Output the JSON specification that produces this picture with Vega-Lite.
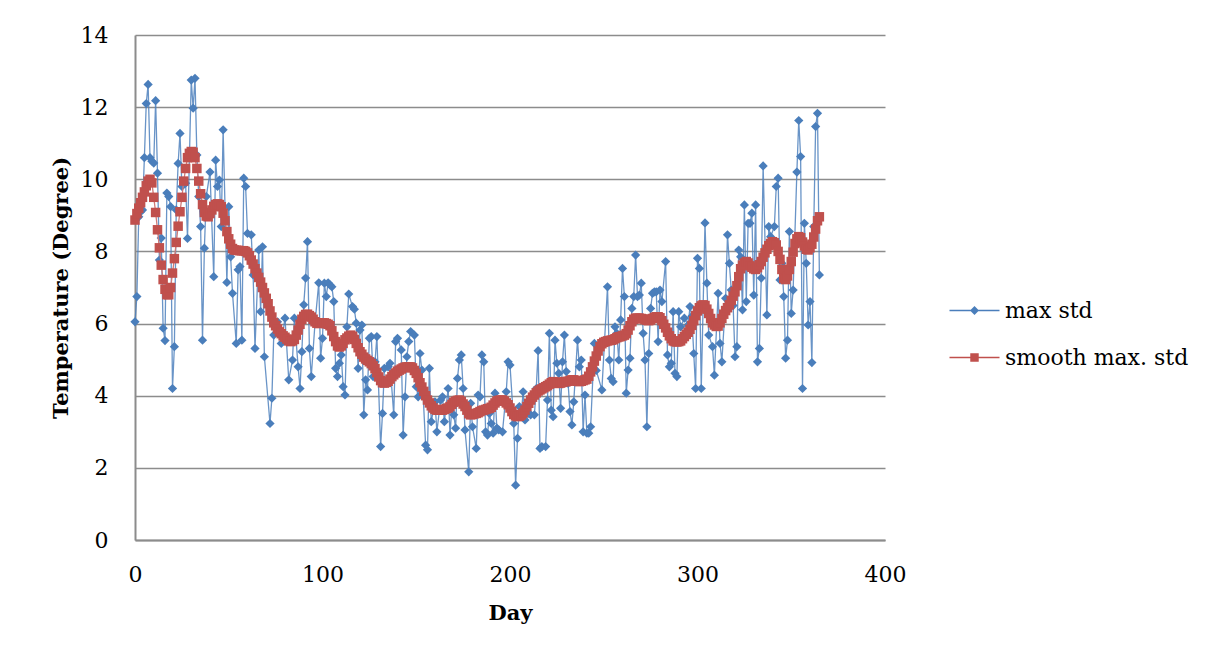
{
  "$schema": "https://vega.github.io/schema/vega-lite/v6.json",
  "width": 750,
  "height": 505,
  "autosize": {"type": "none"},
  "padding": {"left": 135, "top": 35, "right": 338, "bottom": 116},
  "background": "white",
  "datasets": {
    "maxstd": [
      {"day":0,"value":6.05},{"day":1,"value":6.75},{"day":2,"value":8.96},{"day":3,"value":9.1},{"day":4,"value":9.15},{"day":5,"value":10.6},{"day":6,"value":12.1},{"day":7,"value":12.63},{"day":8,"value":10.6},{"day":9,"value":10.5},{"day":10,"value":10.45},{"day":11,"value":12.18},{"day":12,"value":10.17},{"day":13,"value":7.76},{"day":14,"value":8.37},{"day":15,"value":5.87},{"day":16,"value":5.53},{"day":17,"value":9.62},{"day":18,"value":9.52},{"day":19,"value":9.24},{"day":20,"value":4.2},{"day":21,"value":5.36},{"day":22,"value":9.15},{"day":23,"value":10.44},{"day":24,"value":11.27},{"day":25,"value":9.8},{"day":27,"value":9.89},{"day":28,"value":8.36},{"day":30,"value":12.75},{"day":31,"value":11.97},{"day":32,"value":12.8},{"day":33,"value":10.67},{"day":34,"value":9.52},{"day":35,"value":8.69},{"day":36,"value":5.54},{"day":37,"value":8.09},{"day":38,"value":9.52},{"day":40,"value":10.2},{"day":42,"value":7.3},{"day":43,"value":10.53},{"day":44,"value":9.8},{"day":45,"value":9.98},{"day":46,"value":8.69},{"day":47,"value":11.37},{"day":49,"value":7.14},{"day":50,"value":9.24},{"day":51,"value":7.85},{"day":52,"value":6.84},{"day":54,"value":5.45},{"day":55,"value":7.49},{"day":56,"value":7.58},{"day":57,"value":5.54},{"day":58,"value":10.03},{"day":59,"value":9.8},{"day":60,"value":8.5},{"day":62,"value":8.46},{"day":63,"value":7.35},{"day":64,"value":5.31},{"day":66,"value":8.04},{"day":67,"value":6.33},{"day":68,"value":8.13},{"day":69,"value":5.08},{"day":72,"value":3.23},{"day":73,"value":3.93},{"day":74,"value":5.68},{"day":76,"value":6.05},{"day":78,"value":5.45},{"day":80,"value":6.15},{"day":82,"value":4.44},{"day":84,"value":4.99},{"day":85,"value":6.15},{"day":87,"value":4.8},{"day":88,"value":4.2},{"day":89,"value":5.22},{"day":90,"value":6.52},{"day":91,"value":7.26},{"day":92,"value":8.27},{"day":93,"value":5.31},{"day":94,"value":4.53},{"day":96,"value":6.01},{"day":98,"value":7.13},{"day":99,"value":5.04},{"day":100,"value":5.59},{"day":101,"value":7.12},{"day":102,"value":6.75},{"day":103,"value":7.13},{"day":104,"value":7.07},{"day":105,"value":7.02},{"day":106,"value":6.61},{"day":107,"value":4.76},{"day":108,"value":4.53},{"day":109,"value":4.9},{"day":110,"value":5.13},{"day":111,"value":4.25},{"day":112,"value":4.02},{"day":113,"value":5.91},{"day":114,"value":6.82},{"day":116,"value":6.47},{"day":117,"value":6.4},{"day":118,"value":6.01},{"day":119,"value":4.76},{"day":120,"value":5.82},{"day":121,"value":5.96},{"day":122,"value":3.47},{"day":123,"value":4.44},{"day":124,"value":4.16},{"day":125,"value":5.59},{"day":126,"value":5.64},{"day":127,"value":4.53},{"day":128,"value":4.94},{"day":129,"value":5.64},{"day":131,"value":2.59},{"day":132,"value":3.51},{"day":133,"value":4.76},{"day":135,"value":4.8},{"day":136,"value":4.9},{"day":138,"value":3.47},{"day":139,"value":5.5},{"day":140,"value":5.59},{"day":142,"value":5.27},{"day":143,"value":2.91},{"day":144,"value":3.97},{"day":145,"value":5.08},{"day":146,"value":5.5},{"day":147,"value":5.78},{"day":149,"value":5.68},{"day":150,"value":4.25},{"day":151,"value":3.97},{"day":152,"value":5.17},{"day":153,"value":4.71},{"day":155,"value":2.63},{"day":156,"value":2.5},{"day":157,"value":4.76},{"day":158,"value":3.28},{"day":160,"value":3.83},{"day":161,"value":3.0},{"day":163,"value":3.88},{"day":164,"value":3.97},{"day":165,"value":3.28},{"day":167,"value":4.2},{"day":168,"value":2.91},{"day":169,"value":3.7},{"day":170,"value":3.47},{"day":171,"value":3.1},{"day":172,"value":4.48},{"day":173,"value":4.99},{"day":174,"value":5.13},{"day":175,"value":4.2},{"day":176,"value":3.05},{"day":178,"value":1.89},{"day":179,"value":3.79},{"day":180,"value":3.14},{"day":182,"value":2.54},{"day":183,"value":4.02},{"day":184,"value":3.97},{"day":185,"value":5.13},{"day":186,"value":4.94},{"day":187,"value":3.0},{"day":188,"value":2.91},{"day":189,"value":3.51},{"day":190,"value":3.23},{"day":191,"value":2.96},{"day":192,"value":4.07},{"day":193,"value":3.1},{"day":194,"value":3.05},{"day":196,"value":3.0},{"day":198,"value":4.11},{"day":199,"value":4.94},{"day":200,"value":4.85},{"day":202,"value":3.23},{"day":203,"value":1.52},{"day":204,"value":2.82},{"day":205,"value":3.7},{"day":206,"value":3.47},{"day":207,"value":4.11},{"day":208,"value":3.33},{"day":210,"value":3.51},{"day":211,"value":3.47},{"day":213,"value":3.47},{"day":214,"value":4.2},{"day":215,"value":5.25},{"day":216,"value":2.54},{"day":217,"value":2.59},{"day":219,"value":2.59},{"day":220,"value":3.88},{"day":221,"value":5.73},{"day":222,"value":3.6},{"day":223,"value":3.42},{"day":224,"value":5.54},{"day":225,"value":4.9},{"day":226,"value":4.62},{"day":227,"value":3.65},{"day":228,"value":4.94},{"day":229,"value":5.68},{"day":230,"value":4.67},{"day":231,"value":4.34},{"day":232,"value":3.56},{"day":233,"value":3.19},{"day":234,"value":3.83},{"day":236,"value":5.54},{"day":237,"value":4.8},{"day":238,"value":4.99},{"day":239,"value":3.0},{"day":240,"value":4.02},{"day":241,"value":2.96},{"day":242,"value":2.96},{"day":243,"value":3.14},{"day":245,"value":5.45},{"day":246,"value":4.7},{"day":249,"value":4.16},{"day":252,"value":7.02},{"day":253,"value":4.99},{"day":254,"value":4.48},{"day":255,"value":4.39},{"day":256,"value":5.91},{"day":257,"value":5.73},{"day":258,"value":4.99},{"day":259,"value":6.1},{"day":260,"value":7.53},{"day":261,"value":6.75},{"day":262,"value":4.07},{"day":263,"value":4.71},{"day":264,"value":5.04},{"day":265,"value":6.42},{"day":266,"value":6.75},{"day":267,"value":7.9},{"day":268,"value":6.75},{"day":269,"value":6.79},{"day":270,"value":7.12},{"day":271,"value":5.73},{"day":272,"value":4.99},{"day":273,"value":3.14},{"day":274,"value":5.17},{"day":275,"value":6.42},{"day":276,"value":6.84},{"day":277,"value":6.88},{"day":278,"value":6.88},{"day":279,"value":5.5},{"day":280,"value":6.93},{"day":281,"value":6.61},{"day":283,"value":7.72},{"day":284,"value":5.13},{"day":285,"value":4.8},{"day":286,"value":4.9},{"day":287,"value":6.33},{"day":288,"value":4.62},{"day":289,"value":4.53},{"day":290,"value":6.33},{"day":291,"value":5.91},{"day":293,"value":6.15},{"day":295,"value":5.96},{"day":296,"value":6.47},{"day":297,"value":6.2},{"day":298,"value":5.17},{"day":299,"value":4.2},{"day":300,"value":7.81},{"day":301,"value":7.53},{"day":302,"value":4.2},{"day":304,"value":8.79},{"day":305,"value":7.12},{"day":306,"value":5.68},{"day":308,"value":5.36},{"day":309,"value":4.57},{"day":311,"value":6.84},{"day":312,"value":5.45},{"day":313,"value":4.94},{"day":315,"value":6.7},{"day":316,"value":8.46},{"day":317,"value":7.67},{"day":318,"value":6.93},{"day":319,"value":6.5},{"day":320,"value":5.08},{"day":321,"value":5.36},{"day":322,"value":8.04},{"day":323,"value":7.85},{"day":324,"value":6.38},{"day":325,"value":9.29},{"day":326,"value":6.61},{"day":327,"value":8.78},{"day":328,"value":8.78},{"day":329,"value":9.06},{"day":330,"value":6.79},{"day":331,"value":9.29},{"day":332,"value":4.94},{"day":333,"value":5.31},{"day":334,"value":7.26},{"day":335,"value":10.37},{"day":337,"value":6.24},{"day":338,"value":8.69},{"day":339,"value":8.41},{"day":341,"value":8.69},{"day":342,"value":9.8},{"day":343,"value":10.03},{"day":344,"value":7.21},{"day":345,"value":7.67},{"day":346,"value":6.75},{"day":347,"value":5.04},{"day":348,"value":5.54},{"day":349,"value":8.55},{"day":350,"value":6.28},{"day":351,"value":6.93},{"day":353,"value":10.2},{"day":354,"value":11.63},{"day":355,"value":10.63},{"day":356,"value":4.2},{"day":357,"value":8.78},{"day":358,"value":7.67},{"day":359,"value":5.96},{"day":360,"value":6.61},{"day":361,"value":4.92},{"day":362,"value":8.69},{"day":363,"value":11.46},{"day":364,"value":11.83},{"day":365,"value":7.35}
    ],
    "smooth": [
      {"day":0,"value":8.87},{"day":1,"value":9.05},{"day":2,"value":9.2},{"day":3,"value":9.35},{"day":4,"value":9.5},{"day":5,"value":9.65},{"day":6,"value":9.82},{"day":7,"value":9.95},{"day":8,"value":10.0},{"day":9,"value":9.9},{"day":10,"value":9.5},{"day":11,"value":9.08},{"day":12,"value":8.6},{"day":13,"value":8.1},{"day":14,"value":7.62},{"day":15,"value":7.22},{"day":16,"value":6.95},{"day":17,"value":6.8},{"day":18,"value":6.8},{"day":19,"value":7.0},{"day":20,"value":7.4},{"day":21,"value":7.8},{"day":22,"value":8.25},{"day":23,"value":8.7},{"day":24,"value":9.1},{"day":25,"value":9.5},{"day":26,"value":9.95},{"day":27,"value":10.3},{"day":28,"value":10.6},{"day":29,"value":10.72},{"day":30,"value":10.77},{"day":31,"value":10.75},{"day":32,"value":10.6},{"day":33,"value":10.3},{"day":34,"value":9.95},{"day":35,"value":9.6},{"day":36,"value":9.3},{"day":37,"value":9.08},{"day":38,"value":8.98},{"day":39,"value":8.96},{"day":40,"value":9.05},{"day":41,"value":9.15},{"day":42,"value":9.25},{"day":43,"value":9.3},{"day":44,"value":9.32},{"day":45,"value":9.3},{"day":46,"value":9.24},{"day":47,"value":9.06},{"day":48,"value":8.85},{"day":49,"value":8.55},{"day":50,"value":8.35},{"day":51,"value":8.2},{"day":52,"value":8.08},{"day":53,"value":8.04},{"day":54,"value":8.03},{"day":55,"value":8.03},{"day":56,"value":8.02},{"day":57,"value":8.02},{"day":58,"value":8.02},{"day":59,"value":8.0},{"day":60,"value":7.96},{"day":61,"value":7.88},{"day":62,"value":7.76},{"day":63,"value":7.65},{"day":64,"value":7.52},{"day":65,"value":7.4},{"day":66,"value":7.28},{"day":67,"value":7.15},{"day":68,"value":7.0},{"day":69,"value":6.85},{"day":70,"value":6.7},{"day":71,"value":6.55},{"day":72,"value":6.35},{"day":73,"value":6.18},{"day":74,"value":6.02},{"day":75,"value":5.94},{"day":76,"value":5.85},{"day":77,"value":5.77},{"day":78,"value":5.72},{"day":79,"value":5.66},{"day":80,"value":5.62},{"day":81,"value":5.57},{"day":82,"value":5.52},{"day":83,"value":5.5},{"day":84,"value":5.52},{"day":85,"value":5.56},{"day":86,"value":5.68},{"day":87,"value":5.82},{"day":88,"value":5.98},{"day":89,"value":6.12},{"day":90,"value":6.2},{"day":91,"value":6.25},{"day":92,"value":6.26},{"day":93,"value":6.22},{"day":94,"value":6.18},{"day":95,"value":6.12},{"day":96,"value":6.05},{"day":97,"value":6.01},{"day":98,"value":6.0},{"day":99,"value":6.01},{"day":100,"value":6.02},{"day":101,"value":6.02},{"day":102,"value":6.0},{"day":103,"value":5.98},{"day":104,"value":5.94},{"day":105,"value":5.8},{"day":106,"value":5.64},{"day":107,"value":5.5},{"day":108,"value":5.38},{"day":109,"value":5.35},{"day":110,"value":5.38},{"day":111,"value":5.45},{"day":112,"value":5.55},{"day":113,"value":5.6},{"day":114,"value":5.65},{"day":115,"value":5.68},{"day":116,"value":5.65},{"day":117,"value":5.56},{"day":118,"value":5.45},{"day":119,"value":5.33},{"day":120,"value":5.22},{"day":121,"value":5.15},{"day":122,"value":5.07},{"day":123,"value":5.02},{"day":124,"value":4.98},{"day":125,"value":4.94},{"day":126,"value":4.89},{"day":127,"value":4.83},{"day":128,"value":4.75},{"day":129,"value":4.64},{"day":130,"value":4.52},{"day":131,"value":4.42},{"day":132,"value":4.36},{"day":133,"value":4.35},{"day":134,"value":4.37},{"day":135,"value":4.4},{"day":136,"value":4.46},{"day":137,"value":4.53},{"day":138,"value":4.58},{"day":139,"value":4.63},{"day":140,"value":4.68},{"day":141,"value":4.71},{"day":142,"value":4.74},{"day":143,"value":4.77},{"day":144,"value":4.79},{"day":145,"value":4.8},{"day":146,"value":4.8},{"day":147,"value":4.8},{"day":148,"value":4.77},{"day":149,"value":4.7},{"day":150,"value":4.62},{"day":151,"value":4.5},{"day":152,"value":4.36},{"day":153,"value":4.24},{"day":154,"value":4.12},{"day":155,"value":4.0},{"day":156,"value":3.88},{"day":157,"value":3.8},{"day":158,"value":3.72},{"day":159,"value":3.66},{"day":160,"value":3.62},{"day":161,"value":3.6},{"day":162,"value":3.6},{"day":163,"value":3.6},{"day":164,"value":3.6},{"day":165,"value":3.62},{"day":166,"value":3.64},{"day":167,"value":3.66},{"day":168,"value":3.7},{"day":169,"value":3.76},{"day":170,"value":3.82},{"day":171,"value":3.85},{"day":172,"value":3.87},{"day":173,"value":3.88},{"day":174,"value":3.84},{"day":175,"value":3.77},{"day":176,"value":3.7},{"day":177,"value":3.6},{"day":178,"value":3.5},{"day":179,"value":3.47},{"day":180,"value":3.48},{"day":181,"value":3.5},{"day":182,"value":3.51},{"day":183,"value":3.53},{"day":184,"value":3.56},{"day":185,"value":3.59},{"day":186,"value":3.6},{"day":187,"value":3.62},{"day":188,"value":3.64},{"day":189,"value":3.65},{"day":190,"value":3.68},{"day":191,"value":3.74},{"day":192,"value":3.8},{"day":193,"value":3.85},{"day":194,"value":3.87},{"day":195,"value":3.88},{"day":196,"value":3.88},{"day":197,"value":3.85},{"day":198,"value":3.8},{"day":199,"value":3.75},{"day":200,"value":3.66},{"day":201,"value":3.56},{"day":202,"value":3.48},{"day":203,"value":3.44},{"day":204,"value":3.42},{"day":205,"value":3.43},{"day":206,"value":3.47},{"day":207,"value":3.52},{"day":208,"value":3.6},{"day":209,"value":3.7},{"day":210,"value":3.79},{"day":211,"value":3.88},{"day":212,"value":3.96},{"day":213,"value":4.02},{"day":214,"value":4.08},{"day":215,"value":4.13},{"day":216,"value":4.16},{"day":217,"value":4.19},{"day":218,"value":4.22},{"day":219,"value":4.25},{"day":220,"value":4.28},{"day":221,"value":4.32},{"day":222,"value":4.36},{"day":223,"value":4.39},{"day":224,"value":4.38},{"day":225,"value":4.36},{"day":226,"value":4.34},{"day":227,"value":4.35},{"day":228,"value":4.37},{"day":229,"value":4.39},{"day":230,"value":4.39},{"day":231,"value":4.4},{"day":232,"value":4.42},{"day":233,"value":4.44},{"day":234,"value":4.44},{"day":235,"value":4.42},{"day":236,"value":4.4},{"day":237,"value":4.39},{"day":238,"value":4.4},{"day":239,"value":4.42},{"day":240,"value":4.44},{"day":241,"value":4.46},{"day":242,"value":4.54},{"day":243,"value":4.66},{"day":244,"value":4.8},{"day":245,"value":4.96},{"day":246,"value":5.1},{"day":247,"value":5.24},{"day":248,"value":5.36},{"day":249,"value":5.44},{"day":250,"value":5.48},{"day":251,"value":5.5},{"day":252,"value":5.52},{"day":253,"value":5.53},{"day":254,"value":5.54},{"day":255,"value":5.55},{"day":256,"value":5.58},{"day":257,"value":5.61},{"day":258,"value":5.63},{"day":259,"value":5.64},{"day":260,"value":5.66},{"day":261,"value":5.68},{"day":262,"value":5.72},{"day":263,"value":5.82},{"day":264,"value":5.94},{"day":265,"value":6.05},{"day":266,"value":6.12},{"day":267,"value":6.15},{"day":268,"value":6.15},{"day":269,"value":6.15},{"day":270,"value":6.14},{"day":271,"value":6.13},{"day":272,"value":6.11},{"day":273,"value":6.09},{"day":274,"value":6.08},{"day":275,"value":6.1},{"day":276,"value":6.14},{"day":277,"value":6.17},{"day":278,"value":6.19},{"day":279,"value":6.19},{"day":280,"value":6.16},{"day":281,"value":6.08},{"day":282,"value":5.98},{"day":283,"value":5.88},{"day":284,"value":5.76},{"day":285,"value":5.66},{"day":286,"value":5.58},{"day":287,"value":5.52},{"day":288,"value":5.5},{"day":289,"value":5.49},{"day":290,"value":5.5},{"day":291,"value":5.52},{"day":292,"value":5.58},{"day":293,"value":5.64},{"day":294,"value":5.7},{"day":295,"value":5.76},{"day":296,"value":5.84},{"day":297,"value":5.95},{"day":298,"value":6.08},{"day":299,"value":6.22},{"day":300,"value":6.35},{"day":301,"value":6.44},{"day":302,"value":6.49},{"day":303,"value":6.52},{"day":304,"value":6.5},{"day":305,"value":6.4},{"day":306,"value":6.28},{"day":307,"value":6.14},{"day":308,"value":6.02},{"day":309,"value":5.96},{"day":310,"value":5.92},{"day":311,"value":5.93},{"day":312,"value":6.02},{"day":313,"value":6.14},{"day":314,"value":6.26},{"day":315,"value":6.36},{"day":316,"value":6.44},{"day":317,"value":6.52},{"day":318,"value":6.64},{"day":319,"value":6.76},{"day":320,"value":6.88},{"day":321,"value":7.05},{"day":322,"value":7.3},{"day":323,"value":7.52},{"day":324,"value":7.62},{"day":325,"value":7.68},{"day":326,"value":7.72},{"day":327,"value":7.68},{"day":328,"value":7.6},{"day":329,"value":7.56},{"day":330,"value":7.52},{"day":331,"value":7.5},{"day":332,"value":7.55},{"day":333,"value":7.63},{"day":334,"value":7.72},{"day":335,"value":7.84},{"day":336,"value":7.96},{"day":337,"value":8.06},{"day":338,"value":8.16},{"day":339,"value":8.22},{"day":340,"value":8.27},{"day":341,"value":8.24},{"day":342,"value":8.18},{"day":343,"value":8.0},{"day":344,"value":7.78},{"day":345,"value":7.5},{"day":346,"value":7.25},{"day":347,"value":7.22},{"day":348,"value":7.32},{"day":349,"value":7.5},{"day":350,"value":7.72},{"day":351,"value":7.98},{"day":352,"value":8.22},{"day":353,"value":8.35},{"day":354,"value":8.41},{"day":355,"value":8.38},{"day":356,"value":8.26},{"day":357,"value":8.15},{"day":358,"value":8.06},{"day":359,"value":8.04},{"day":360,"value":8.1},{"day":361,"value":8.2},{"day":362,"value":8.4},{"day":363,"value":8.62},{"day":364,"value":8.85},{"day":365,"value":8.96}
    ],
    "series": [
      {"series": "max std"},
      {"series": "smooth max. std"}
    ]
  },
  "encoding": {
    "x": {
      "field": "day",
      "type": "quantitative",
      "scale": {"domain": [0, 400], "nice": false, "zero": false},
      "axis": {
        "title": "Day",
        "values": [0, 100, 200, 300, 400],
        "grid": false,
        "ticks": false,
        "labelPadding": 24,
        "titlePadding": 17
      }
    },
    "y": {
      "field": "value",
      "type": "quantitative",
      "scale": {"domain": [0, 14], "nice": false},
      "axis": {
        "title": "Temperature (Degree)",
        "values": [0, 2, 4, 6, 8, 10, 12, 14],
        "grid": true,
        "ticks": false,
        "labelPadding": 27,
        "titlePadding": 9
      }
    }
  },
  "layer": [
    {
      "data": {"name": "maxstd"},
      "mark": {"type": "line", "color": "#4F81BD", "strokeWidth": 1.3, "opacity": 0.85}
    },
    {
      "data": {"name": "maxstd"},
      "mark": {"type": "point", "shape": "diamond", "filled": true, "size": 85, "color": "#4A7EBB", "opacity": 1}
    },
    {
      "data": {"name": "smooth"},
      "mark": {"type": "line", "color": "#D07A78", "strokeWidth": 1.3}
    },
    {
      "data": {"name": "smooth"},
      "mark": {"type": "point", "shape": "square", "filled": true, "size": 90, "color": "#C0504D", "opacity": 1}
    },
    {
      "data": {"name": "series"},
      "transform": [{"filter": "datum.series == 'none'"}],
      "mark": {"type": "point", "filled": true, "opacity": 1},
      "encoding": {
        "x": null,
        "y": null,
        "color": {
          "field": "series",
          "type": "nominal",
          "scale": {"domain": ["max std", "smooth max. std"], "range": ["#4A7EBB", "#C0504D"]},
          "legend": {
            "orient": "none",
            "legendX": 816,
            "legendY": 252,
            "title": null,
            "symbolSize": 2209,
            "rowPadding": 12,
            "labelOffset": 7,
            "padding": 0,
            "symbolStrokeWidth": 0,
            "symbolOpacity": 1
          }
        },
        "shape": {
          "field": "series",
          "type": "nominal",
          "scale": {
            "domain": ["max std", "smooth max. std"],
            "range": [
              "M-1.064,-0.032H1.064V0.032H-1.064Z M0,-0.19L0.19,0L0,0.19L-0.19,0Z",
              "M-1.064,-0.032H1.064V0.032H-1.064Z M-0.18,-0.18H0.18V0.18H-0.18Z"
            ]
          }
        }
      }
    }
  ],
  "config": {
    "view": {"stroke": null},
    "font": "DejaVu Serif",
    "axis": {
      "labelFont": "DejaVu Serif",
      "labelFontSize": 22,
      "labelColor": "#000000",
      "titleFont": "DejaVu Serif",
      "titleFontSize": 21,
      "titleFontWeight": "bold",
      "titleColor": "#000000",
      "domainColor": "#8C8C8C",
      "domainWidth": 2,
      "gridColor": "#8C8C8C",
      "gridWidth": 1.6,
      "gridOpacity": 1,
      "labelFlush": false,
      "labelOverlap": false
    },
    "legend": {
      "labelFont": "DejaVu Serif",
      "labelFontSize": 22,
      "labelColor": "#000000",
      "labelLimit": 400
    }
  }
}
